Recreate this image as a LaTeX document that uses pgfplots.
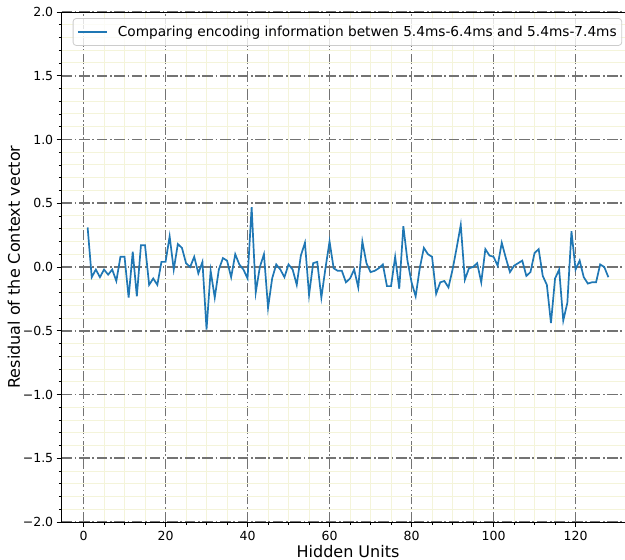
\documentclass[border=0pt]{standalone}
\usepackage{fontspec}
\setmainfont{DejaVu Sans}
\usepackage{pgfplots}
\pgfplotsset{compat=1.18}
\definecolor{mplblue}{HTML}{1F77B4}
\definecolor{minorc}{HTML}{F4F4DA}
\definecolor{majorc}{HTML}{737373}
\definecolor{legedge}{HTML}{CCCCCC}
\begin{document}
\begin{tikzpicture}
\begin{axis}[
  name=ax,
  scale only axis,
  width=572.8bp, height=510bp,
  xmin=-5.35, xmax=134.35,
  ymin=-2, ymax=2,
  xtick={0,20,40,60,80,100,120},
  ytick={-2,-1.5,-1,-0.5,0,0.5,1,1.5,2},
  yticklabels={−2.0,−1.5,−1.0,−0.5,0.0,0.5,1.0,1.5,2.0},
  minor x tick num=3,
  minor y tick num=4,
  xtick pos=bottom, ytick pos=left,
  tick align=outside,
  major tick length=4.9bp, minor tick length=2.8bp,
  every tick/.style={black, line width=0.8bp},
  every minor tick/.style={black, line width=0.6bp},
  axis line style={black, line width=0.9bp},
  grid=both,
  major grid style={majorc, line width=1.7bp, dash pattern=on 10.5bp off 2.7bp on 1.7bp off 2.7bp},
  minor grid style={minorc, line width=1bp},
  /pgf/number format/assume math mode=true,
  tick label style={font=\fontsize{12.5bp}{15bp}\selectfont},
  xticklabel style={yshift=-1bp},
  label style={font=\fontsize{16bp}{19bp}\selectfont},
  xlabel={Hidden Units},
  ylabel={Residual of the Context vector},
  xlabel style={yshift=2.5bp},
  ylabel style={yshift=-4bp},
  legend style={at={(rel axis cs:0.9785,0.988)}, anchor=north east, draw=legedge, line width=0.8bp, rounded corners=3pt, fill=white, fill opacity=0.8, text opacity=1, font=\fontsize{13.7bp}{16.5bp}\selectfont, inner xsep=3bp, inner ysep=5.5bp},
  legend cell align=left,
  legend image code/.code={\path (-1bp,0bp) (37bp,0bp); \draw[#1, line width=1.7bp] (0bp,0bp) -- (29bp,0bp);},
]
\addplot[mplblue, line width=1.7bp, mark=none] coordinates {
(1,0.31) (2,-0.08) (3,-0.02) (4,-0.08) (5,-0.02) (6,-0.06) (7,-0.02) (8,-0.11)
(9,0.08) (10,0.08) (11,-0.24) (12,0.12) (13,-0.23) (14,0.17) (15,0.17) (16,-0.14)
(17,-0.09) (18,-0.14) (19,0.04) (20,0.04) (21,0.24) (22,-0.02) (23,0.18) (24,0.15)
(25,0.03) (26,0.0) (27,0.08) (28,-0.05) (29,0.04) (30,-0.49) (31,-0.03) (32,-0.24)
(33,-0.02) (34,0.07) (35,0.05) (36,-0.08) (37,0.10) (38,0.02) (39,-0.02) (40,-0.09)
(41,0.47) (42,-0.20) (43,0.0) (44,0.10) (45,-0.32) (46,-0.09) (47,0.02) (48,-0.02)
(49,-0.08) (50,0.02) (51,-0.02) (52,-0.14) (53,0.09) (54,0.19) (55,-0.22) (56,0.03)
(57,0.04) (58,-0.24) (59,-0.01) (60,0.20) (61,-0.01) (62,-0.03) (63,-0.03) (64,-0.12)
(65,-0.09) (66,-0.02) (67,-0.16) (68,0.20) (69,0.03) (70,-0.04) (71,-0.03) (72,-0.01)
(73,0.02) (74,-0.15) (75,-0.15) (76,0.08) (77,-0.17) (78,0.32) (79,0.05) (80,-0.12)
(81,-0.23) (82,-0.01) (83,0.15) (84,0.10) (85,0.08) (86,-0.21) (87,-0.12) (88,-0.11)
(89,-0.16) (90,-0.02) (91,0.15) (92,0.33) (93,-0.10) (94,-0.01) (95,0.0) (96,0.03)
(97,-0.12) (98,0.14) (99,0.09) (100,0.08) (101,0.01) (102,0.19) (103,0.07) (104,-0.04)
(105,0.01) (106,0.03) (107,0.05) (108,-0.07) (109,-0.04) (110,0.11) (111,0.14) (112,-0.07)
(113,-0.14) (114,-0.44) (115,-0.09) (116,-0.02) (117,-0.42) (118,-0.28) (119,0.28) (120,-0.02)
(121,0.05) (122,-0.08) (123,-0.13) (124,-0.12) (125,-0.12) (126,0.02) (127,0.0) (128,-0.08)
};
\addlegendentry{Comparing encoding information betwen 5.4ms-6.4ms and 5.4ms-7.4ms}
\end{axis}
\pgfresetboundingbox
\path[use as bounding box] ([xshift=-61.6bp,yshift=-38bp]ax.south west) rectangle ([xshift=563.4bp,yshift=12bp]ax.north west);
\end{tikzpicture}
\end{document}
